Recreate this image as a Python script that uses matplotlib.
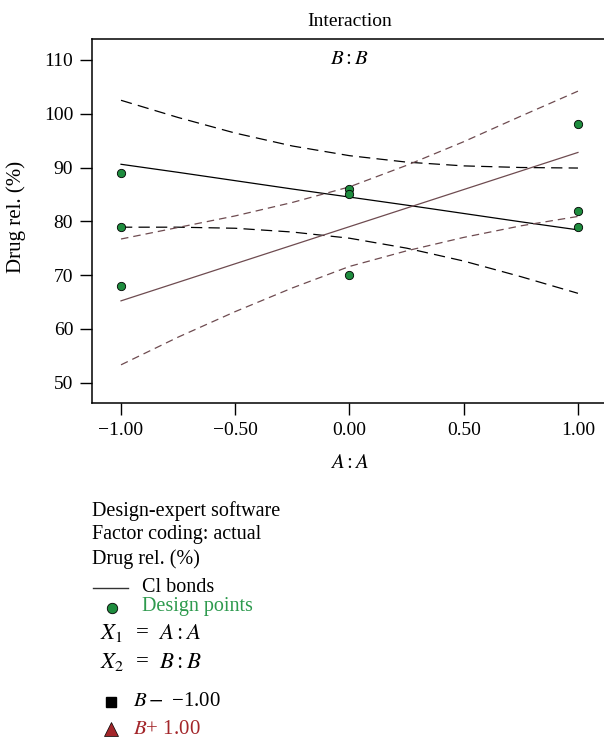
import matplotlib
matplotlib.use("Agg")
import matplotlib.pyplot as plt
from matplotlib.lines import Line2D

plt.rcParams['font.family'] = ['Liberation Serif', 'DejaVu Serif']
plt.rcParams['mathtext.fontset'] = 'stix'

# valores
x_pred = [-1.0, -0.75, -0.5, -0.25, 0.0, 0.25, 0.5, 0.75, 1.0]

b_menos = [90.6, 89.1, 87.55, 86.0, 84.5, 83.0, 81.45, 79.9, 78.4]
b_menos_sup = [102.5, 99.3, 96.4, 94.0, 92.2, 91.0, 90.3, 90.0, 89.9]
b_menos_inf = [78.9, 78.9, 78.7, 78.0, 76.85, 75.0, 72.6, 69.7, 66.6]

b_mas = [65.2, 68.65, 72.1, 75.55, 79.0, 82.45, 85.9, 89.35, 92.8]
b_mas_sup = [76.7, 78.85, 81.0, 83.5, 86.4, 90.4, 94.8, 99.55, 104.2]
b_mas_inf = [53.3, 58.45, 63.2, 67.6, 71.6, 74.5, 77.0, 79.15, 80.9]

x_puntos = [-1, -1, -1, 0, 0, 0, 1, 1, 1]
y_puntos = [89, 79, 68, 86, 85, 70, 98, 82, 79]

marron = '#6e4b50'
verde = '#1e8c3e'
rojo = '#a3262a'

fig = plt.figure(figsize=(6.04, 7.37), dpi=100)
ax = fig.add_axes([92 / 604, 1 - 403 / 737, 512 / 604, 364 / 737])

ax.plot(x_pred, b_menos, color='black', lw=0.9)
ax.plot(x_pred, b_menos_sup, color='black', lw=0.9, dashes=(9, 5))
ax.plot(x_pred, b_menos_inf, color='black', lw=0.9, dashes=(9, 5))

ax.plot(x_pred, b_mas, color=marron, lw=0.9)
ax.plot(x_pred, b_mas_sup, color=marron, lw=0.9, dashes=(6, 4))
ax.plot(x_pred, b_mas_inf, color=marron, lw=0.9, dashes=(6, 4))

ax.plot(x_puntos, y_puntos, 'o', color=verde, mec='black', mew=0.6, ms=6, zorder=5)

ax.set_xlim(-1.127, 1.114)
ax.set_ylim(46.2, 113.9)
ax.set_xticks([-1, -0.5, 0, 0.5, 1])
ax.set_xticklabels(['\u22121.00', '\u22120.50', '0.00', '0.50', '1.00'])
ax.set_yticks([50, 60, 70, 80, 90, 100, 110])
ax.tick_params(labelsize=14, length=8.5, width=1)
ax.tick_params(axis='x', pad=5)
ax.tick_params(axis='y', pad=5)
ax.spines['right'].set_visible(False)
for s in ['left', 'top', 'bottom']:
    ax.spines[s].set_linewidth(1.1)

ax.set_xlabel('$A:A$', fontsize=15)
ax.xaxis.set_label_coords(0.504, -0.14)
ax.set_ylabel('Drug rel. (%)', fontsize=15)
ax.yaxis.set_label_coords(-0.128, 0.51)
fig.text(350 / 604, 1 - 22 / 737, 'Interaction', ha='center', va='center', fontsize=14)
ax.text(0.0, 110, '$B:B$', ha='center', va='center', fontsize=15)

# bloque de texto inferior
x0 = 92 / 604
def fy(py):
    return 1 - py / 737

fig.text(x0, fy(511), 'Design-expert software', fontsize=14.5, va='center')
fig.text(x0, fy(535), 'Factor coding: actual', fontsize=14.5, va='center')
fig.text(x0, fy(559), 'Drug rel. (%)', fontsize=14.5, va='center')
fig.add_artist(Line2D([93 / 604, 128 / 604], [fy(588), fy(588)], color='#333333', lw=1.0))
fig.text(142 / 604, fy(587), 'Cl bonds', fontsize=14.5, va='center')
fig.add_artist(Line2D([112 / 604], [fy(608)], marker='o', color=verde, mec='black', mew=0.6, ms=7.5, ls=''))
fig.text(142 / 604, fy(607), 'Design points', fontsize=14.5, va='center', color='#2e9a4e')
fig.text(100 / 604, fy(633), '$X_1$  =  $A:A$', fontsize=16.5, va='center')
fig.text(100 / 604, fy(662), '$X_2$  =  $B:B$', fontsize=16.5, va='center')
fig.add_artist(Line2D([111 / 604], [fy(702)], marker='s', color='black', ms=7.5, ls=''))
fig.text(133 / 604, fy(702), '$B\u2212$ \u22121.00', fontsize=15, va='center')
fig.add_artist(Line2D([111 / 604], [fy(729)], marker='^', color=rojo, mec='black', mew=0.5, ms=10.5, ls=''))
fig.text(133 / 604, fy(729), '$B$+ 1.00', fontsize=15, va='center', color=rojo)

fig.savefig('out.png', dpi=100)
